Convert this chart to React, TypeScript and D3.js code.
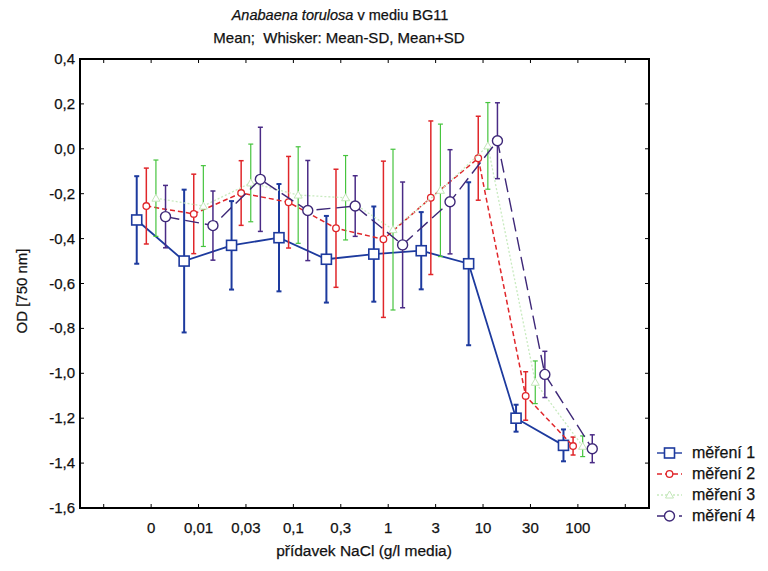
import React from "react";
import * as d3 from "d3";

// ---- data ----
const slots = ["s0", "0", "0,01", "0,03", "0,1", "0,3", "1", "3", "10", "30", "100", "s11"];
const categories = ["0", "0,01", "0,03", "0,1", "0,3", "1", "3", "10", "30", "100"];
const yTicks = [0.4, 0.2, 0.0, -0.2, -0.4, -0.6, -0.8, -1.0, -1.2, -1.4, -1.6];

const seriesNames = ["měření 1", "měření 2", "měření 3", "měření 4"];
const mean1 = [-0.317, -0.5, -0.43, -0.396, -0.492, -0.469, -0.454, -0.512, -1.2, -1.321];
const sd1 = [0.195, 0.318, 0.197, 0.239, 0.193, 0.212, 0.172, 0.363, 0.06, 0.071];
const mean2 = [-0.255, -0.29, -0.197, -0.238, -0.354, -0.403, -0.218, -0.042, -1.101, -1.324];
const sd2 = [0.169, 0.177, 0.144, 0.204, 0.263, 0.348, 0.342, 0.187, 0.108, 0.04];
const mean3 = [-0.22, -0.255, -0.152, -0.206, -0.218, -0.36, -0.185, 0.013, -1.04, -1.325];
const sd3 = [0.17, 0.18, 0.173, 0.215, 0.188, 0.358, 0.295, 0.193, 0.095, 0.046];
const mean4 = [-0.302, -0.342, -0.136, -0.275, -0.255, -0.428, -0.236, 0.036, -1.005, -1.336];
const sd4 = [0.139, 0.154, 0.232, 0.223, 0.135, 0.28, 0.232, 0.169, 0.103, 0.062];

const means = [mean1, mean2, mean3, mean4];
const sds = [sd1, sd2, sd3, sd4];

const styles = [
  { line: "#1d3a9e", whisk: "#1d3a9e", lw: 1.8, ww: 2, dash: "none", marker: "square" },
  { line: "#e0262a", whisk: "#e0262a", lw: 1.5, ww: 1.5, dash: "5,3", marker: "circleSmall" },
  { line: "#c8eabf", whisk: "#46c43e", lw: 1.3, ww: 1.2, dash: "2,2", marker: "triangle" },
  { line: "#3e2878", whisk: "#4a2b86", lw: 1.4, ww: 1.5, dash: "14,6", marker: "circle" },
];

const W = 768;
const H = 571;
const L = 80, R = 649, T = 59, B = 508;
const FONT = "'Liberation Sans', Arial, sans-serif";
const TXT = { fontFamily: FONT, fill: "#111", stroke: "#111", strokeWidth: 0.25 };

function Marker({ kind, x, y, color }: { kind: string; x: number; y: number; color: string }) {
  if (kind === "square")
    return <rect x={x - 5} y={y - 5} width={10} height={10} fill="#fff" stroke={color} strokeWidth={1.6} />;
  if (kind === "circleSmall")
    return <circle cx={x} cy={y} r={3.3} fill="#fff" stroke={color} strokeWidth={1.3} />;
  if (kind === "triangle")
    return (
      <path d={`M${x},${y - 4}L${x + 4},${y + 3}L${x - 4},${y + 3}Z`} fill="#fff" stroke="#c2e6b8" strokeWidth={1} />
    );
  return <circle cx={x} cy={y} r={5} fill="#fff" stroke={color} strokeWidth={1.4} />;
}

export default function App() {
  const x = d3.scaleBand<string>().domain(slots).range([L, R]).padding(0);
  const y = d3.scaleLinear().domain([-1.6, 0.4]).range([B, T]);
  const cx = (c: string) => (x(c) as number) + x.bandwidth() / 2;
  const off = (i: number) => (i - 1.5) * 9.6;
  const fmt = (v: number) => d3.format(".1f")(v).replace(".", ",").replace("−", "-");

  return (
    <svg width={W} height={H} style={{ display: "block", position: "absolute", left: 0, top: 0, background: "#fff" }}>
      {/* titles */}
      <text x={340} y={20} textAnchor="middle" fontSize={14.5} {...TXT}>
        <tspan fontStyle="italic">Anabaena torulosa</tspan> v mediu BG11
      </text>
      <text x={339} y={43} textAnchor="middle" fontSize={15} style={{ whiteSpace: "pre" }} {...TXT}>
        {"Mean;  Whisker: Mean-SD, Mean+SD"}
      </text>

      {/* series */}
      {means.map((m, si) => {
        const st = styles[si];
        const pts = m.map((v, i) => [cx(categories[i]) + off(si), y(v)] as [number, number]);
        const line = d3.line()(pts) as string;
        return (
          <g key={si}>
            <path d={line} fill="none" stroke={st.line} strokeWidth={st.lw} strokeDasharray={st.dash} />
            {m.map((v, i) => {
              const px = pts[i][0];
              const y1 = y(v + sds[si][i]);
              const y2 = y(v - sds[si][i]);
              return (
                <g key={i} stroke={st.whisk} strokeWidth={st.ww}>
                  <line x1={px} x2={px} y1={y1} y2={y2} />
                  <line x1={px - 2.5} x2={px + 2.5} y1={y1} y2={y1} />
                  <line x1={px - 2.5} x2={px + 2.5} y1={y2} y2={y2} />
                </g>
              );
            })}
            {pts.map((p, i) => (
              <Marker key={i} kind={st.marker} x={p[0]} y={p[1]} color={st.line} />
            ))}
          </g>
        );
      })}

      {/* frame */}
      <rect x={L} y={T} width={R - L} height={B - T} fill="none" stroke="#000" strokeWidth={2} />
      {slots.map((s) => (
        <g key={s} stroke="#000" strokeWidth={1}>
          <line x1={cx(s)} x2={cx(s)} y1={B} y2={B - 4} />
          <line x1={cx(s)} x2={cx(s)} y1={T} y2={T + 4} />
        </g>
      ))}
      {yTicks.map((t) => (
        <g key={t} stroke="#000" strokeWidth={1}>
          <line x1={L} x2={L + 4} y1={y(t)} y2={y(t)} />
          <line x1={R} x2={R - 4} y1={y(t)} y2={y(t)} />
        </g>
      ))}

      {/* y tick labels */}
      {yTicks.map((t) => (
        <text key={t} x={L - 5} y={y(t) + 5} textAnchor="end" fontSize={15} {...TXT}>
          {fmt(t)}
        </text>
      ))}
      {/* x tick labels */}
      {categories.map((c) => (
        <text key={c} x={cx(c)} y={533} textAnchor="middle" fontSize={15} {...TXT}>
          {c}
        </text>
      ))}

      {/* axis titles */}
      <text x={364} y={556} textAnchor="middle" fontSize={15.5} {...TXT}>
        přídavek NaCl (g/l media)
      </text>
      <text transform={`translate(27,291) rotate(-90)`} textAnchor="middle" fontSize={15} {...TXT}>
        OD [750 nm]
      </text>

      {/* legend */}
      {seriesNames.map((n, si) => {
        const st = styles[si];
        const ly = 453 + si * 21;
        return (
          <g key={n}>
            <line
              x1={657}
              x2={682}
              y1={ly}
              y2={ly}
              stroke={st.line}
              strokeWidth={1.4}
              strokeDasharray={si === 3 ? "7,4" : st.dash}
            />
            <Marker kind={st.marker} x={669.5} y={ly} color={st.line} />
            <text x={692} y={ly + 5} fontSize={16} {...TXT}>
              {n}
            </text>
          </g>
        );
      })}
    </svg>
  );
}
